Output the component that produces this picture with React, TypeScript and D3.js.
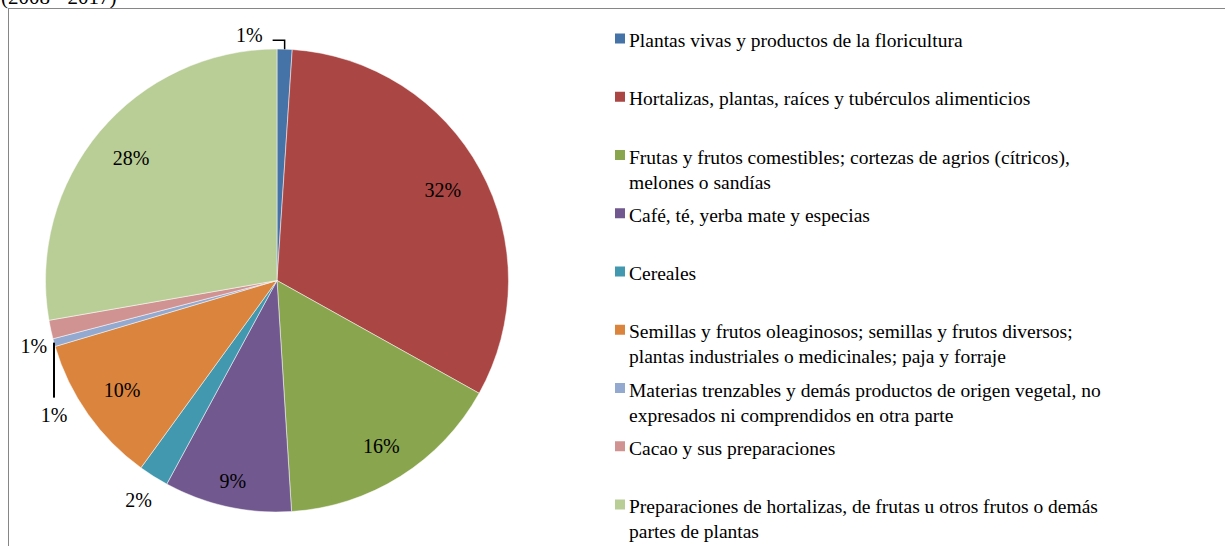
import React from "react";
import * as d3 from "d3";

const categories = [
  "Plantas vivas y productos de la floricultura",
  "Hortalizas, plantas, raíces y tubérculos alimenticios",
  "Frutas y frutos comestibles; cortezas de agrios (cítricos),\nmelones o sandías",
  "Café, té, yerba mate y especias",
  "Cereales",
  "Semillas y frutos oleaginosos; semillas y frutos diversos;\nplantas industriales o medicinales; paja y forraje",
  "Materias trenzables y demás productos de origen vegetal, no\nexpresados ni comprendidos en otra parte",
  "Cacao y sus preparaciones",
  "Preparaciones de hortalizas, de frutas u otros frutos o demás\npartes de plantas",
];
const shares = [1.05, 32.05, 15.9, 8.9, 2.1, 10.4, 0.55, 1.3, 27.75];
const colors = [
  "#4572A7", "#AA4643", "#89A54E", "#71588F", "#4198AF",
  "#DB843D", "#93A9CF", "#D19392", "#B9CD96",
];
const titleText = "(2008 - 2017)";

const W = 1225;
const H = 546;
const cx = 277;
const cy = 280.5;
const R = 231.5;
const FONT = "'Liberation Serif', 'Times New Roman', serif";
const FS = 20;

export default function App() {
  const total = d3.sum(shares);
  const pie = d3.pie<number>().sort(null).value((d) => d)(shares);
  const arc = d3.arc<d3.PieArcDatum<number>>().innerRadius(0).outerRadius(R);
  const fmt = (v: number) => `${Math.round((v / total) * 100)}%`;
  const edge = (a: number, r: number) => [Math.sin(a) * r, -Math.cos(a) * r];

  const legendY = d3.scaleLinear().domain([0, categories.length - 1]).range([47, 513]);

  const labels: React.ReactNode[] = [];
  pie.forEach((p, i) => {
    const mid = (p.startAngle + p.endAngle) / 2;
    const txt = fmt(p.value);
    const pct = (p.value / total) * 100;
    if (pct >= 3) {
      const w = txt.length * 9.5;
      const ext = Math.abs(Math.sin(mid)) * w + Math.abs(Math.cos(mid)) * 8;
      const [x, y] = edge(mid, R - 14 - ext);
      labels.push(
        <text key={"l" + i} x={cx + x} y={cy + y} dy="0.35em" textAnchor="middle">{txt}</text>
      );
    } else {
      const [ex, ey] = edge(mid, R);
      const px = cx + ex;
      const py = cy + ey;
      if (i === 0) {
        labels.push(
          <g key={"l" + i}>
            <polyline points={`${px},${py} ${px},${py - 9} ${px - 12},${py - 9}`} fill="none" stroke="#000" strokeWidth={1.5} />
            <text x={px - 22} y={py - 7} textAnchor="end">{txt}</text>
          </g>
        );
      } else if (i === 6) {
        labels.push(
          <g key={"l" + i}>
            <line x1={px} y1={py} x2={px} y2={py + 55} stroke="#000" strokeWidth={2} />
            <text x={px} y={py + 79} textAnchor="middle">{txt}</text>
          </g>
        );
      } else if (i === 7) {
        labels.push(
          <text key={"l" + i} x={px - 17} y={py + 23} textAnchor="middle">{txt}</text>
        );
      } else {
        const [x, y] = edge(mid, R + 28);
        labels.push(
          <text key={"l" + i} x={cx + x} y={cy + y} dy="0.35em" textAnchor="middle">{txt}</text>
        );
      }
    }
  });

  return (
    <svg width={W} height={H} style={{ position: "absolute", left: 0, top: 0 }} fontFamily={FONT} fontSize={FS}>
      <rect x={0} y={0} width={W} height={H} fill="#fff" />
      <text x={1} y={3.5} fontSize={21}>{titleText}</text>
      <rect x={8.5} y={8.5} width={W + 20} height={H + 20} fill="none" stroke="#868686" strokeWidth={1} />
      <g transform={`translate(${cx},${cy})`}>
        {pie.map((p, i) => (
          <path key={i} d={arc(p) || ""} fill={colors[i]} stroke="#fff" strokeWidth={0.5} />
        ))}
      </g>
      <g>{labels}</g>
      <g fontSize={19.5}>
        {categories.map((c, i) => {
          const y = legendY(i);
          const lines = c.split("\n");
          return (
            <g key={i}>
              <rect x={615} y={y - 13.5} width={10} height={10} fill={colors[i]} />
              <text x={629} y={y}>
                {lines.map((ln, j) => (
                  <tspan key={j} x={629} dy={j === 0 ? 0 : 25}>{ln}</tspan>
                ))}
              </text>
            </g>
          );
        })}
      </g>
    </svg>
  );
}
